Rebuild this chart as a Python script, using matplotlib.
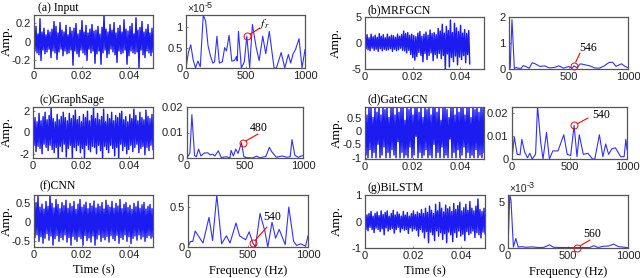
import numpy as np
import matplotlib
matplotlib.use("Agg")
import matplotlib.pyplot as plt

plt.rcParams['font.family'] = ['Liberation Sans', 'DejaVu Sans']
plt.rcParams['mathtext.fontset'] = 'stix'

W, H = 640, 278
BLUE = "#1c1cf0"
GRAY = "#555555"

# time signals
input_t = [0.13,-0.1,0.16,-0.12,0.08,-0.14,0.24,-0.2,0.1,-0.09,0.14,-0.13,0.07,-0.11,0.12,-0.08,0.1,-0.17,0.13,-0.1,
           0.21,-0.12,0.16,-0.19,0.09,-0.11,0.2,-0.08,0.12,-0.15,0.1,-0.1,0.17,-0.13,0.07,-0.12,0.15,-0.09,0.11,-0.25,
           0.14,-0.1,0.19,-0.13,0.08,-0.16,0.12,-0.09,0.22,-0.12,0.1,-0.14,0.17,-0.2,0.09,-0.08,0.13,-0.12,0.18,-0.1,
           0.11,-0.23,0.12,-0.13,0.16,-0.1,0.08,-0.24,0.15,-0.12,0.28,-0.09,0.13,-0.17,0.1,-0.13,0.18,-0.08,0.12,-0.11,
           0.2,-0.14,0.09,-0.22,0.14,-0.1,0.17,-0.13,0.1,-0.12,0.23,-0.09,0.13,-0.24,0.11,-0.15,0.16,-0.1,0.19,-0.12,
           0.08,-0.13,0.25,-0.11,0.12,-0.28,0.15,-0.09,0.21,-0.14,0.1,-0.17,0.13,-0.1,0.18,-0.12,0.09,-0.15,0.14,-0.11]
mrf_t = [1.3,-1.1,1.6,-1.3,1.0,-1.5,1.7,-1.0,1.2,-1.4,1.5,-1.2,1.1,-1.6,1.8,-1.1,1.3,-1.5,1.6,-1.2,
         1.0,-1.4,1.7,-1.3,1.2,-1.1,1.5,-1.6,1.4,-1.2,1.1,-1.5,1.7,-1.3,1.3,-1.0,1.6,-1.4,2.3,-1.5,
         1.8,-1.9,2.0,-1.4,1.5,-2.2,1.7,-2.8,1.4,-3.3,1.2,-2.6,1.9,-1.8,2.2,-2.4,1.3,-3.6,1.7,-2.0,
         2.1,-3.2,1.5,-2.4,2.5,-1.9,1.8,-3.4,2.0,-2.2,1.6,-2.9,2.8,-2.0,2.3,-3.0,3.6,-2.4,1.9,-5.0,
         3.2,-2.1,2.4,-4.6,4.4,-2.8,2.0,-3.6,3.8,-2.5,2.9,-4.2,2.2,-2.7,3.4,-3.2,1.9,-2.4,2.6,-3.8,
         1.8,-2.2,2.4,-4.0]
sage_t = [2.1,-1.2,1.4,-1.8,1.0,-1.3,1.8,-1.5,1.1,-2.0,1.5,-1.1,1.9,-1.4,1.2,-1.7,1.6,-1.2,2.4,-1.6,
          1.3,-1.9,1.0,-1.4,1.7,-2.4,1.2,-1.3,1.5,-1.8,1.9,-1.1,1.4,-2.3,1.1,-1.5,1.8,-1.2,1.3,-2.4,
          1.6,-1.4,2.1,-1.7,1.2,-1.2,1.5,-1.9,1.0,-1.5,1.7,-2.4,1.4,-1.2,2.0,-1.6,1.1,-1.8,1.6,-1.3,
          2.3,-1.4,1.3,-2.0,1.8,-1.2,1.2,-1.7,1.5,-2.4,2.2,-1.3,1.0,-1.6,1.7,-1.9,1.3,-1.2,1.9,-1.5,
          1.1,-2.2,1.6,-1.4,1.4,-2.4,1.8,-1.1,2.0,-1.7,1.2,-1.3,1.5,-2.0,1.0,-1.6,1.7,-1.2,1.3,-1.8,
          2.2,-1.4,1.6,-1.1,1.1,-1.9,1.9,-1.5,1.4,-1.3,1.2,-2.1,2.1,-1.4,1.5,-1.7,1.3,-1.2,1.7,-1.6]
gate_t = [0.9,-0.9,0.6,-1.0,0.9,-0.7,0.9,-1.0,0.5,-0.8,0.9,-1.0,0.7,-0.5,0.9,-1.0,0.6,-0.9,0.9,-0.6,
          0.8,-1.0,0.9,-0.8,0.5,-1.0,0.9,-0.7,0.9,-0.9,0.6,-1.0,0.9,-0.4,0.7,-1.0,0.9,-0.8,0.9,-1.0,
          0.4,-0.9,0.9,-1.0,0.8,-0.6,0.9,-1.0,0.6,-0.9,0.9,-0.2,0.9,-1.0,0.7,-0.8,0.9,-1.0,0.5,-0.9,
          0.9,-0.7,0.8,-1.0,0.9,-0.9,0.6,-1.0,0.9,-0.5,0.9,-1.0,0.7,-0.8,0.9,-1.0,0.4,-0.6,0.9,-1.0,
          0.9,-0.9,0.8,-1.0,0.5,-0.3,0.9,-1.0,0.9,-0.8,0.6,-1.0,0.9,-0.7,0.7,-1.0,0.9,-0.9,0.9,-0.6,
          0.6,-1.0,0.9,-0.8,0.9,-1.0,0.5,-0.9,0.9,-1.0,0.8,-0.7,0.9,-1.0,0.7,-0.9,0.9,-1.0,0.9,-0.8]
cnn_t = [0.45,-0.4,0.52,-0.33,0.7,-0.5,0.4,-0.38,0.48,-0.55,0.35,-0.42,0.55,-0.3,0.42,-0.47,0.72,-0.36,0.5,-0.6,
         0.38,-0.43,0.6,-0.35,0.47,-0.5,0.36,-0.4,0.52,-0.46,0.44,-0.33,0.58,-0.52,0.37,-0.4,0.5,-0.6,0.42,-0.37,
         0.55,-0.45,0.34,-0.5,0.48,-0.38,0.6,-0.43,0.4,-0.6,0.46,-0.35,0.53,-0.48,0.36,-0.41,0.5,-0.52,0.43,-0.36,
         0.56,-0.6,0.38,-0.44,0.48,-0.33,0.42,-0.5,0.52,-0.4,0.35,-0.46,0.58,-0.37,0.45,-0.52,0.4,-0.35,0.55,-0.43,
         0.37,-0.48,0.5,-0.34,0.43,-0.55,0.6,-0.4,0.36,-0.45,0.47,-0.33,0.52,-0.5,0.39,-0.38,0.45,-0.56,0.34,-0.42,
         0.5,-0.36,0.41,-0.47,0.55,-0.33,0.37,-0.44,0.46,-0.38,0.52,-0.5,0.35,-0.4,0.42,-0.35,0.47,-0.42,0.36,-0.38]
bilstm_t = [0.4,-0.3,0.25,-0.35,0.3,-0.22,0.38,-0.3,0.2,-0.42,0.3,-0.25,0.36,-0.3,0.22,-0.38,0.4,-0.28,0.26,-0.5,
            0.34,-0.24,0.4,-0.36,0.2,-0.3,0.3,-0.26,0.42,-0.44,0.24,-0.3,0.36,-0.22,0.28,-0.4,0.2,-0.27,0.38,-0.33,
            0.24,-0.3,0.34,-0.45,0.2,-0.24,0.3,-0.36,0.4,-0.28,0.26,-0.33,0.36,-0.55,0.3,-0.3,0.45,-0.4,0.3,-0.62,
            0.5,-0.38,0.34,-0.8,0.58,-0.4,0.42,-0.5,0.3,-0.72,0.65,-0.35,0.4,-0.55,0.72,-0.42,0.5,-0.68,0.36,-0.46,
            0.62,-0.8,0.48,-0.4,0.55,-0.5,0.38,-0.76,0.68,-0.42,0.45,-0.6,0.6,-0.36,0.72,-0.55,0.4,-0.48,0.52,-0.72,
            0.65,-0.38,0.42,-0.5,0.75,-0.44,0.5,-0.36,0.4,-0.6,0.58,-0.42,0.85,-0.5,0.45,-0.62,0.38,-0.4,0.5,-0.46]

# spectra
input_f = [0,20,40,60,80,100,120,145,165,185,205,225,240,260,280,305,325,340,362,385,405,425,430,441,465,490,511,535,558,590,615,645,670,700,740,760,800,830,860,880,900,920,950,975,1000]
input_a = [0,0.38,0.57,0.2,0,0.17,0.03,1.3,1.15,0.55,0.3,0.12,0.15,0.78,0.12,0.15,0.5,0.42,0.8,0.17,0.18,0.28,0.17,0.9,0,0.15,0.78,0,1.07,0.5,0.18,0.78,0.35,0.9,0,0,0.38,0,0.33,0.12,0.35,0.45,0.72,0,0.45]
mrf_f = [0,10,25,45,60,80,100,120,140,170,195,220,260,300,340,380,420,460,500,530,546,570,600,630,680,720,760,800,840,870,900,945,975,1000]
mrf_a = [0,0.05,1.9,0.02,0.06,0.03,0.02,0.13,0.1,0.03,0.24,0.2,0.1,0.12,0.04,0.06,0.12,0.03,0.1,0.03,0.12,0.05,0.2,0.17,0.12,0.04,0.03,0.12,0.25,0.26,0.1,0.2,0.1,0.05]
sage_f = [0,25,42,65,80,100,120,150,180,200,220,240,270,295,340,370,380,400,420,440,470,490,510,560,600,630,680,710,730,770,820,860,890,905,930,960,1000]
sage_a = [0,0.002,0.017,0.001,0.0005,0.0035,0.0008,0.002,0.002,0.0012,0.0015,0.0008,0.0028,0.0002,0.0005,0,0.003,0.0008,0.0035,0.0018,0.006,0.0005,0.0002,0,0.0007,0.0001,0.0006,0.0042,0.0025,0.0003,0.0008,0.0003,0.0005,0.0072,0.001,0.0003,0.001]
gate_f = [0,20,45,70,85,110,135,155,175,205,222,250,270,300,325,355,400,450,480,510,540,565,585,620,660,700,720,760,790,815,840,870,900,945,975,990,1000]
gate_a = [0,0.0095,0.002,0.0018,0.0085,0.003,0.0005,0.0025,0,0.002,0.023,0.007,0,0.0115,0,0.0035,0.0035,0.0105,0.002,0.0015,0.0145,0.001,0.0105,0.002,0.0025,0,0,0.0105,0.001,0.0065,0.002,0.0045,0.0048,0.001,0.001,0.0085,0.004]
cnn_f = [0,20,40,60,90,125,175,205,240,280,320,350,400,430,480,510,540,562,600,640,665,700,730,760,810,840,880,905,940,980,1000]
cnn_a = [0,0.07,0.07,0.2,0.13,0.05,0.37,0.08,0.65,0.04,0.14,0.05,0.3,0.14,0.09,0.19,0.05,0,0.42,0.2,0,0.31,0.11,0.22,0.03,0.5,0.07,0.02,0.04,0.01,0.14]
bilstm_f = [0,15,25,45,65,85,110,150,200,260,300,345,380,430,500,560,620,680,715,750,800,840,880,920,960,1000]
bilstm_a = [0,5.8,5.2,0.1,1.05,0.1,0.15,0.08,0.12,0.05,0.08,0.35,0.08,0.06,0.05,0.04,0.06,0.05,0.25,0.06,0.2,0.22,0.42,0.15,0.1,0.03]

titles = ["(a) Input", "(b)MRFGCN", "(c)GraphSage", "(d)GateGCN", "(f)CNN", "(g)BiLSTM"]
ts = [input_t, mrf_t, sage_t, gate_t, cnn_t, bilstm_t]
t_end = [0.05, 0.044, 0.05, 0.05, 0.05, 0.05]
fs = [input_f, mrf_f, sage_f, gate_f, cnn_f, bilstm_f]
amps = [input_a, mrf_a, sage_a, gate_a, cnn_a, bilstm_a]
scale = [1e-5, 1, 1, 1, 1, 1e-3]
marks = [(511, 0.78e-5), (546, 0.12), (480, 0.006), (540, 0.0145), (540, 0.05), (575, 0.04e-3)]
mark_txt = ["$f_r$", "546", "480", "540", "540", "560"]

# pixel boxes x0,x1,y0,y1
t_box = [(34,153,15,68), (365,484,17,69), (33,153,107,158), (365,484,107,159), (34,153,195,247), (365,485,195,248)]
f_box = [(186,305,15,68), (509,628,17,69), (187,303,107,158), (512,627,107,159), (188,308,195,247), (508,628,195,248)]
t_ylim = [(-0.28,0.28), (-5,5), (-2.4,2.4), (-1.05,0.9), (-0.65,0.72), (-1,1)]
t_yt = [[-0.2,0,0.2], [-5,0,5], [-2,0,2], [-1,-0.5,0,0.5], [-0.5,0,0.5], [-1,0,1]]
t_ytl = [["-0.2","0","0.2"], ["-5","0","5"], ["-2","0","2"], ["-1","-0.5","0","0.5"], ["-0.5","0","0.5"], ["-1","0","1"]]
f_ylim = [(0,1.3e-5), (0,2), (0,0.02), (0,0.0225), (0,0.65), (0,5.8e-3)]
f_yt = [[0,0.5e-5,1e-5], [0,1,2], [0,0.01,0.02], [0,0.01,0.02], [0,0.5], [0,5e-3]]
f_ytl = [["0","0.5","1"], ["0","1","2"], ["0","0.01","0.02"], ["0","0.01","0.02"], ["0","0.5"], ["0","5"]]
# label centre and end of the red line, in figure pixels
lab_xy = [(264,24), (588,48), (259,128), (601,115), (272,217), (592,234)]
line_xy = [(260,28), (580,53), (258,134), (588,118), (267,227), (590,240)]
title_xy = [(38,8), (368,10), (39,100), (368,99), (39,186), (368,188)]
ylab_x = [7, 336, 7, 337, 7, 337]


def box(b):
    x0, x1, y0, y1 = b
    return [x0/W, 1-y1/H, (x1-x0)/W, (y1-y0)/H]


def style(ax):
    for s in ax.spines.values():
        s.set_color(GRAY)
        s.set_linewidth(0.9)
    ax.tick_params(direction="in", length=1.5, width=0.5, color=GRAY, labelsize=8, pad=2.5, labelcolor="#222222")


fig = plt.figure(figsize=(W/100, H/100), dpi=100)
for i in range(6):
    ax = fig.add_axes(box(t_box[i]))
    t = np.linspace(0, t_end[i], len(ts[i]))
    ax.plot(t, ts[i], color=BLUE, lw=1.05)
    ax.set_xlim(0, 0.05)
    ax.set_ylim(*t_ylim[i])
    ax.set_xticks([0, 0.02, 0.04])
    ax.set_xticklabels(["0", "0.02", "0.04"])
    ax.set_yticks(t_yt[i])
    ax.set_yticklabels(t_ytl[i])
    style(ax)
    if i >= 4:
        ax.set_xlabel("Time (s)", family="Liberation Serif", fontsize=9, labelpad=3)
    fig.text(ylab_x[i]/W, 1-(t_box[i][2]+t_box[i][3])/2/H, "Amp.", rotation=90, ha="center", va="center",
             family="Liberation Serif", fontsize=9.5)
    fig.text(title_xy[i][0]/W, 1-title_xy[i][1]/H, titles[i], ha="left", va="center",
             family="Liberation Serif", fontsize=8.5)

    ax = fig.add_axes(box(f_box[i]))
    ax.plot(fs[i], np.array(amps[i])*scale[i], color=BLUE, lw=0.8, alpha=0.9)
    ax.set_xlim(0, 1000)
    ax.set_ylim(*f_ylim[i])
    ax.set_xticks([0, 500, 1000])
    ax.set_yticks(f_yt[i])
    ax.set_yticklabels(f_ytl[i])
    style(ax)
    if i >= 4:
        ax.set_xlabel("Frequency (Hz)", family="Liberation Serif", fontsize=9, labelpad=3)
    if scale[i] != 1:
        exp = "-5" if i == 0 else "-3"
        fig.text((f_box[i][0]+1)/W, 1-(f_box[i][2]-6)/H, "\u00d710", fontsize=7.5, ha="left", va="center", color="#222222")
        fig.text((f_box[i][0]+19)/W, 1-(f_box[i][2]-10)/H, exp, fontsize=6.5, ha="left", va="center", color="#222222")
    ax.plot([marks[i][0]], [marks[i][1]], "o", mfc="none", mec="red", ms=5, mew=0.7, clip_on=False)
    ex, ey = line_xy[i]
    ax.annotate("", xy=marks[i], xycoords="data", xytext=(ex/W, 1-ey/H), textcoords="figure fraction",
                arrowprops=dict(arrowstyle="-", color="red", lw=0.8, shrinkA=0, shrinkB=3))
    lx, ly = lab_xy[i]
    fig.text(lx/W, 1-ly/H, mark_txt[i], ha="center", va="center", family="Liberation Serif", fontsize=8.5)

fig.savefig("out.png", dpi=100)
